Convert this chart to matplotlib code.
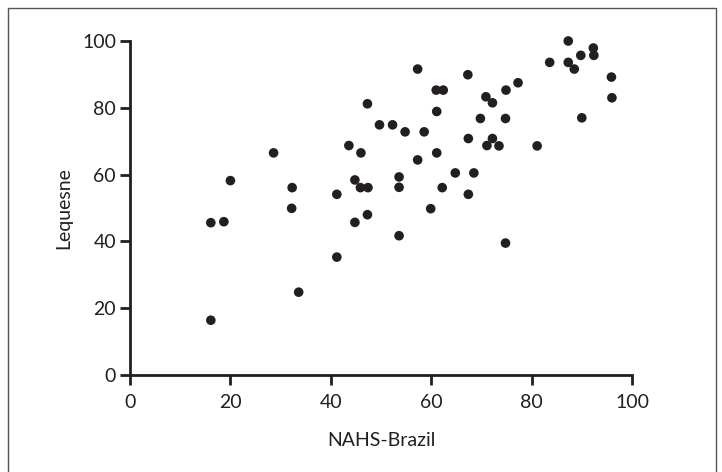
import matplotlib
matplotlib.use("Agg")
import matplotlib.pyplot as plt
from matplotlib.lines import Line2D

# NAHS-Brazil vs Lequesne scores
nahs = [16.1, 16.1, 18.7, 20.0, 28.6, 32.3, 32.2, 33.6, 41.2, 41.2,
        43.6, 46.0, 44.8, 45.9, 47.4, 44.8, 47.3, 47.3, 49.7, 52.3,
        54.8, 53.6, 53.6, 53.6, 57.3, 58.6, 57.3, 59.9, 61.0, 62.4,
        61.1, 61.1, 62.2, 64.8, 67.3, 67.4, 67.4, 68.5, 69.8, 70.9,
        72.2, 71.1, 72.2, 73.5, 74.9, 74.8, 74.8, 77.3, 81.1, 83.6,
        87.3, 87.3, 88.5, 89.8, 90.0, 92.3, 92.4, 95.9, 96.0]
lequesne = [16.4, 45.6, 45.9, 58.2, 66.5, 56.1, 49.9, 24.8, 54.1, 35.3,
            68.7, 66.5, 58.4, 56.1, 56.1, 45.7, 48.0, 81.2, 74.9, 74.9,
            72.8, 59.3, 56.2, 41.7, 91.6, 72.8, 64.4, 49.8, 85.3, 85.3,
            78.9, 66.5, 56.1, 60.5, 89.9, 70.8, 54.1, 60.5, 76.8, 83.3,
            81.5, 68.7, 70.8, 68.6, 85.3, 76.8, 39.5, 87.5, 68.6, 93.6,
            100.0, 93.6, 91.6, 95.7, 77.0, 97.9, 95.7, 89.2, 83.0]
ticks = [0, 20, 40, 60, 80, 100]

ink = "#231f20"
plt.rcParams["font.family"] = ["Lato", "DejaVu Sans"]

fig = plt.figure(figsize=(7.22, 4.72), dpi=100)
ax = fig.add_axes([130 / 722, 1 - 375 / 472, 502 / 722, 334 / 472])

ax.scatter(nahs, lequesne, s=48, color=ink, edgecolors="none", clip_on=False, zorder=3)

ax.set_xlim(0, 100)
ax.set_ylim(0, 100)
ax.set_xticks(ticks)
ax.set_yticks(ticks)
ax.spines["top"].set_visible(False)
ax.spines["right"].set_visible(False)
for side in ["left", "bottom"]:
    ax.spines[side].set_linewidth(2)
    ax.spines[side].set_color(ink)
ax.tick_params(axis="both", length=7, width=2, color=ink, labelsize=14, labelcolor=ink)
ax.tick_params(axis="x", pad=7)
ax.tick_params(axis="y", pad=3)

ax.set_xlabel("NAHS-Brazil", fontsize=14, color=ink, labelpad=15)
ax.set_ylabel("Lequesne", fontsize=14, color=ink, labelpad=7)

# thin frame around the figure (no bottom edge visible)
frame_x = [8 / 722, 8 / 722, 716 / 722, 716 / 722]
frame_y = [0, 1 - 8 / 472, 1 - 8 / 472, 0]
fig.add_artist(Line2D(frame_x, frame_y, transform=fig.transFigure, color="#555555", lw=1))

fig.savefig("out.png", dpi=100)
